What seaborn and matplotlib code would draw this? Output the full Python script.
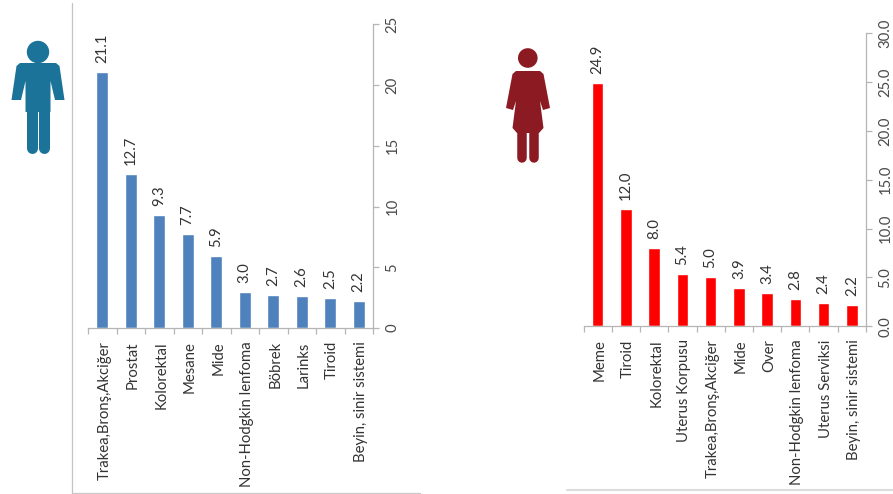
import matplotlib
matplotlib.use("Agg")
import matplotlib.pyplot as plt
from matplotlib.patches import Circle, Polygon
from matplotlib.transforms import ScaledTranslation
import seaborn as sns

male_sites = ["Trakea,Bronş,Akciğer", "Prostat", "Kolorektal", "Mesane", "Mide",
              "Non-Hodgkin lenfoma", "Böbrek", "Larinks", "Tiroid", "Beyin, sinir sistemi"]
male_rates = [21.1, 12.7, 9.3, 7.7, 5.9, 3.0, 2.7, 2.6, 2.5, 2.2]
male_ticks = [0, 5, 10, 15, 20, 25]
male_ticklabels = ["0", "5", "10", "15", "20", "25"]

female_sites = ["Meme", "Tiroid", "Kolorektal", "Uterus Korpusu", "Trakea,Bronş,Akciğer",
                "Mide", "Over", "Non-Hodgkin lenfoma", "Uterus Serviksi", "Beyin, sinir sistemi"]
female_rates = [24.9, 12.0, 8.0, 5.4, 5.0, 3.9, 3.4, 2.8, 2.4, 2.2]
female_ticks = [0, 5, 10, 15, 20, 25, 30]
female_ticklabels = ["0.0", "5.0", "10.0", "15.0", "20.0", "25.0", "30.0"]

W, H = 893, 494
sns.set_theme(style="white")
plt.rcParams["font.family"] = ["Lato", "DejaVu Sans"]
TEXT = "#4a4a4a"
AXIS = "#b5b5b5"
FS = 10.7

fig = plt.figure(figsize=(W / 100, H / 100), dpi=100, facecolor="white")


def pixel_axes(left, top, right, bottom):
    return fig.add_axes([left / W, 1 - bottom / H, (right - left) / W, (bottom - top) / H])


def rate_panel(box, sites, rates, ticks, ticklabels, color):
    ax = pixel_axes(*box)
    sns.barplot(x=sites, y=rates, color=color, width=0.41, saturation=1, ax=ax)
    ax.set_xlim(-0.5, len(sites) - 0.5)
    ax.set_ylim(ticks[0], ticks[-1])
    ax.patch.set_alpha(0)

    for side in ("left", "top"):
        ax.spines[side].set_visible(False)
    for side in ("right", "bottom"):
        ax.spines[side].set_color(AXIS)
        ax.spines[side].set_linewidth(0.9)

    ax.yaxis.tick_right()
    ax.set_yticks(ticks, ticklabels, rotation=90, va="center", fontsize=FS, color=TEXT)
    ax.tick_params(axis="y", length=4, color=AXIS, width=0.9, pad=5, right=True)

    ax.set_xticks(range(len(sites)), sites, rotation=90, fontsize=FS, color="#333333")
    ax.set_xticks([i - 0.5 for i in range(len(sites) + 1)], minor=True)
    ax.tick_params(axis="x", which="major", length=0, pad=9.5)
    ax.tick_params(axis="x", which="minor", length=4, color=AXIS, width=0.9, bottom=True)

    values = ax.bar_label(ax.containers[0], fmt="%.1f", rotation=90, padding=6.5,
                          fontsize=FS, color="#333333")

    # Nudge the rotated texts so they sit centred on their bars.
    nudge = ScaledTranslation(2 / 100, 0, fig.dpi_scale_trans)
    for label in ax.get_xticklabels():
        label.set_transform(label.get_transform() + nudge)
    for label in values:
        label.set_transform(label.get_transform() + nudge)
    return ax


rate_panel((88, 24.3, 373, 328), male_sites, male_rates, male_ticks, male_ticklabels, "#4F81BD")
rate_panel((583.5, 33.3, 866, 326.3), female_sites, female_rates, female_ticks, female_ticklabels, "#FF0000")

# Full-figure layer in pixel units for the frame lines and the person pictograms.
deco = fig.add_axes([0, 0, 1, 1], zorder=-1)
deco.set_xlim(0, W)
deco.set_ylim(H, 0)
deco.axis("off")

deco.plot([71.5, 71.5], [3, 493], color="#c4c4c4", lw=0.9)
deco.plot([71.5, 420], [492.7, 492.7], color="#c9c9c9", lw=0.9)
deco.plot([567, 893], [489.8, 489.8], color="#dcdcdc", lw=1.5)


def limb(x0, y0, x1, y1, width, color):
    deco.plot([x0, x1], [y0, y1], color=color, lw=width * 0.72, solid_capstyle="round")


# Male figure
blue = "#1B7399"
deco.add_patch(Circle((38, 52), 11.2, color=blue, lw=0))
deco.add_patch(Polygon([(20, 63), (56, 63), (59.5, 66), (64.5, 100), (55, 100), (50.5, 81), (50.5, 112),
                        (25.5, 112), (25.5, 81), (21, 100), (11.5, 100), (16.5, 66)],
                       closed=True, color=blue, lw=0))
limb(16.3, 100, 16.3, 100.1, 9.5, blue)
limb(59.7, 100, 59.7, 100.1, 9.5, blue)
limb(31.5, 105, 31.5, 148, 11, blue)
limb(44.2, 105, 44.2, 148, 11, blue)

# Female figure
maroon = "#8C1A22"
deco.add_patch(Circle((527.8, 58), 9.8, color=maroon, lw=0))
deco.add_patch(Polygon([(516, 71), (540, 71), (543.5, 74), (550, 108), (543, 110), (540, 101), (543.5, 128),
                        (539, 133), (517, 133), (512.5, 128), (516, 101), (513, 110), (506, 108), (512.5, 74)],
                       closed=True, color=maroon, lw=0))
limb(510, 108, 510, 108.1, 8, maroon)
limb(546, 108, 546, 108.1, 8, maroon)
limb(522, 128, 522, 158, 9.5, maroon)
limb(533.5, 128, 533.5, 158, 9.5, maroon)

fig.savefig("out.png", dpi=100)
